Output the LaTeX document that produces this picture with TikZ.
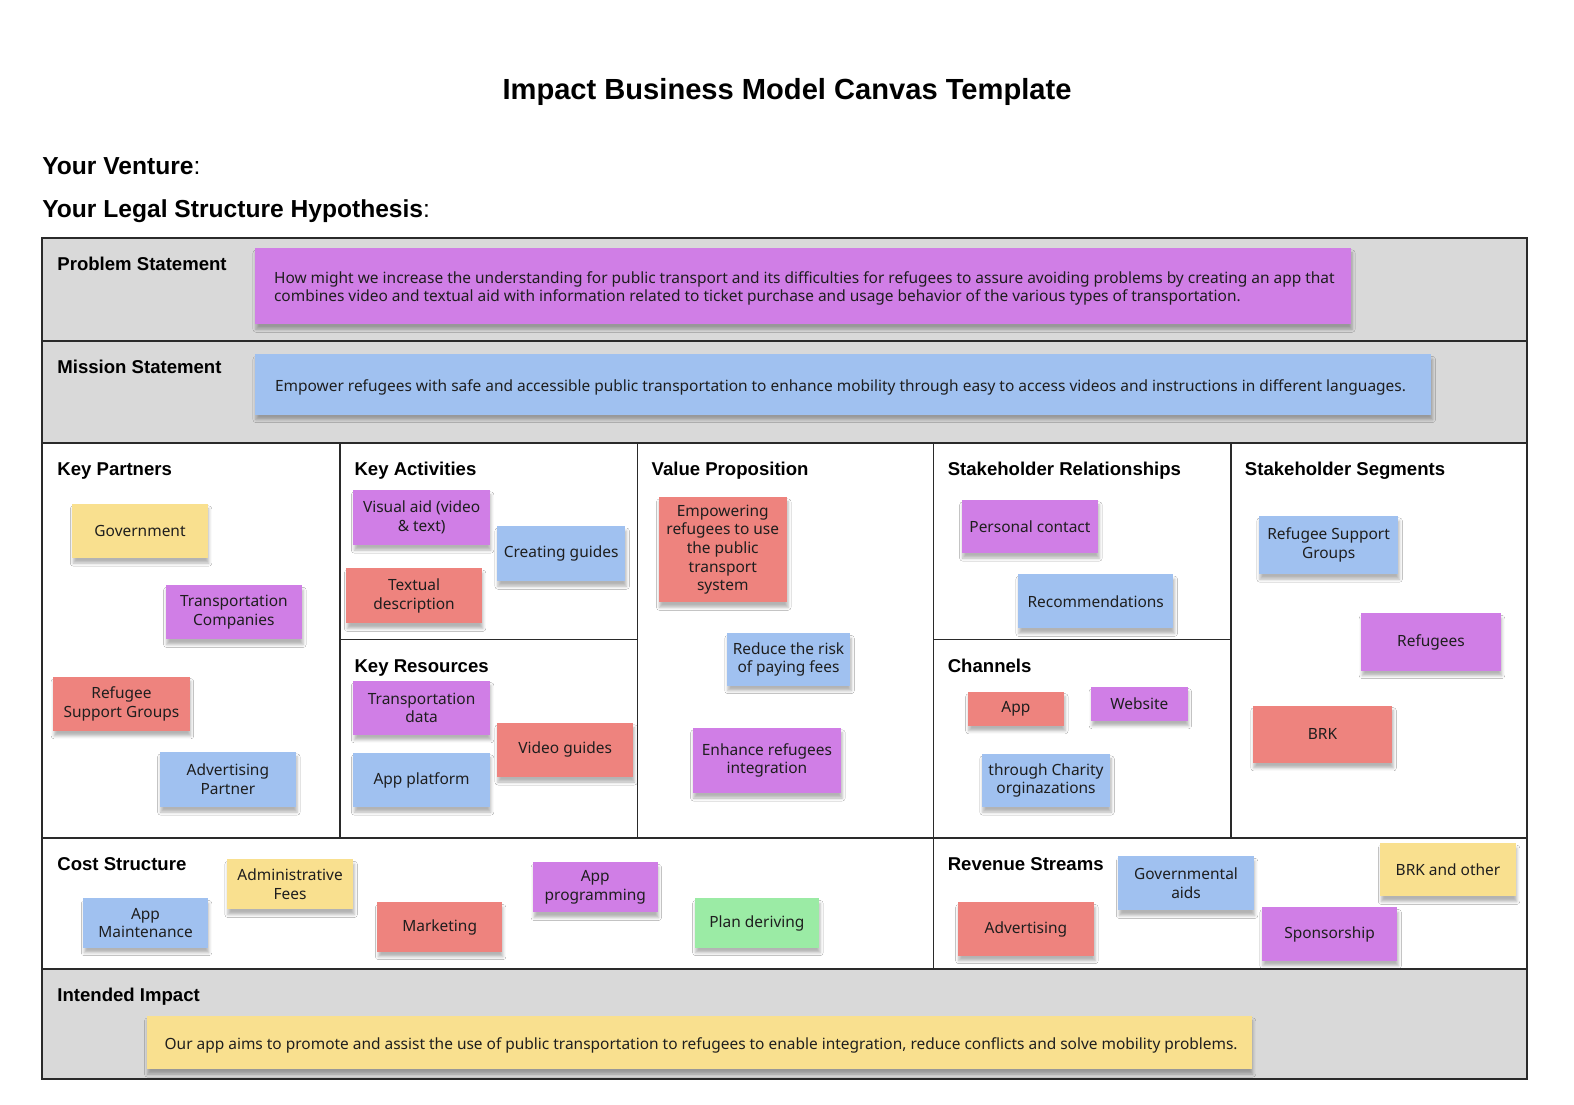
\documentclass[tikz,border=0pt]{standalone}
\usepackage{fontspec}
\setmainfont{Liberation Sans}
\newfontfamily\notefont{Noto Sans}
\usetikzlibrary{shadows.blur}

\definecolor{framecol}{HTML}{2A2A2A}
\definecolor{rowgray}{HTML}{D9D9D9}
\definecolor{notepurple}{HTML}{D07EE6}
\definecolor{noteblue}{HTML}{A0C1F0}
\definecolor{notered}{HTML}{EE837E}
\definecolor{noteyellow}{HTML}{F9E08F}
\definecolor{notegreen}{HTML}{9BEBA5}
\definecolor{notetext}{HTML}{1E1E1E}

\begin{document}
\begin{tikzpicture}[x=1pt,y=-1pt,
  cell/.style={draw=framecol, line width=1.8pt},
  graycell/.style={cell, fill=rowgray},
  hdr/.style={anchor=base west, inner sep=0pt, font=\fontsize{18.5}{20}\selectfont\bfseries},
  notetxt/.style={inner sep=0pt, align=center, text=notetext, font=\notefont\fontsize{15.4}{18.5}\selectfont},
  sticky/.style={notetxt,
    blur shadow={shadow xshift=1pt, shadow yshift=-5pt, shadow blur radius=3pt, shadow opacity=30}},
  sz/.style 2 args={minimum width=#1, minimum height=#2},
  purple/.style={sticky, fill=notepurple},
  blue/.style={sticky, fill=noteblue},
  red/.style={sticky, fill=notered},
  yellow/.style={sticky, fill=noteyellow},
  green/.style={sticky, fill=notegreen},
  stmt/.style={notetxt, anchor=west, align=left},
]
\useasboundingbox (0,0) rectangle (1568,1100);
\fill[white] (0,0) rectangle (1568,1100);

% page headings
\node[anchor=base, inner sep=0pt, font=\fontsize{29}{31}\selectfont\bfseries] (title) at (784,99.5) {Impact Business Model Canvas Template};
\node[anchor=base west, inner sep=0pt, font=\fontsize{24.5}{26}\selectfont] (venture) at (42,174) {\textbf{Your Venture}:};
\node[anchor=base west, inner sep=0pt, font=\fontsize{24.5}{26}\selectfont] (legal) at (42,217) {\textbf{Your Legal Structure Hypothesis}:};

% canvas grid
\draw[graycell] (42,237) rectangle (1521,340);
\draw[graycell] (42,340) rectangle (1521,441);
\draw[cell] (42,441) rectangle (339,835);
\draw[cell] (339,441) rectangle (635,637);
\draw[cell] (339,637) rectangle (635,835);
\draw[cell] (635,441) rectangle (930,835);
\draw[cell] (930,441) rectangle (1226,637);
\draw[cell] (930,637) rectangle (1226,835);
\draw[cell] (1226,441) rectangle (1521,835);
\draw[cell] (42,835) rectangle (930,965);
\draw[cell] (930,835) rectangle (1521,965);
\draw[graycell] (42,965) rectangle (1521,1075);

% block headings
\node[hdr] (hProblem) at (57,269.5) {Problem Statement};
\node[hdr] (hMission) at (57,372.5) {Mission Statement};
\node[hdr] (hPartners) at (57,473.5) {Key Partners};
\node[hdr] (hActivities) at (353,473.5) {Key Activities};
\node[hdr] (hResources) at (353,669.5) {Key Resources};
\node[hdr] (hValue) at (649,473.5) {Value Proposition};
\node[hdr] (hRelations) at (944,473.5) {Stakeholder Relationships};
\node[hdr] (hChannels) at (944,669.5) {Channels};
\node[hdr] (hSegments) at (1240,473.5) {Stakeholder Segments};
\node[hdr] (hCost) at (57,867.5) {Cost Structure};
\node[hdr] (hRevenue) at (944,867.5) {Revenue Streams};
\node[hdr] (hImpact) at (57,997.5) {Intended Impact};

% statements: wide notes with left-aligned text
\node[purple, sz={1092pt}{76pt}] (problem) at (800,285) {};
\node[stmt] (problemText) at ([xshift=19pt, yshift=-2.5pt]problem.west)
  {How might we increase the understanding for public transport and its difficulties for refugees to assure avoiding problems by creating an app that\\combines video and textual aid with information related to ticket purchase and usage behavior of the various types of transportation.};
\node[blue, sz={1172pt}{60pt}] (mission) at (840,383) {};
\node[stmt] (missionText) at ([xshift=20pt, yshift=-2.5pt]mission.west)
  {Empower refugees with safe and accessible public transportation to enhance mobility through easy to access videos and instructions in different languages.};
\node[yellow, sz={1101pt}{53pt}] (impact) at (696.5,1038.5) {};
\node[stmt] (impactText) at ([xshift=18pt, yshift=-2.5pt]impact.west)
  {Our app aims to promote and assist the use of public transportation to refugees to enable integration, reduce conflicts and solve mobility problems.};

% key partners
\node[yellow, sz={135pt}{54pt}] (kpGov) at (139.5,529) {Government};
\node[purple, sz={136pt}{54pt}] (kpTrans) at (233,610) {Transportation\\Companies};
\node[red, sz={136pt}{54pt}] (kpRefugee) at (121,701) {Refugee\\Support Groups};
\node[blue, sz={136pt}{55pt}] (kpAdvert) at (227,776.5) {Advertising\\Partner};

% key activities
\node[purple, sz={136pt}{55pt}] (kaVisual) at (420,515.5) {Visual aid (video\\\& text)};
\node[blue, sz={128pt}{55pt}] (kaGuides) at (559,551.5) {Creating guides};
\node[red, sz={135pt}{55pt}] (kaText) at (412.5,593.5) {Textual\\description};

% key resources
\node[purple, sz={136pt}{54pt}] (krData) at (420,705) {Transportation\\data};
\node[red, sz={136pt}{54pt}] (krVideo) at (563,747) {Video guides};
\node[blue, sz={136pt}{54pt}] (krPlatform) at (420,777) {App platform};

% value proposition
\node[red, sz={128pt}{105pt}] (vpEmpower) at (720,547.5) {Empowering\\refugees to use\\the public\\transport\\system};
\node[blue, sz={123pt}{52pt}] (vpRisk) at (785.5,657) {Reduce the risk\\of paying fees};
\node[purple, sz={148pt}{65pt}] (vpIntegr) at (764,757.5) {Enhance refugees\\integration};

% stakeholder relationships
\node[purple, sz={136pt}{53pt}] (srContact) at (1026,524.5) {Personal contact};
\node[blue, sz={155pt}{54pt}] (srRecomm) at (1091.5,599) {Recommendations};

% channels
\node[red, sz={96pt}{34pt}] (chApp) at (1012,706) {App};
\node[purple, sz={96pt}{34pt}] (chWeb) at (1135,701) {Website};
\node[blue, sz={128pt}{53pt}] (chCharity) at (1042,777.5) {through Charity\\orginazations};

% stakeholder segments
\node[blue, sz={139pt}{58pt}] (ssGroups) at (1323.5,543) {Refugee Support\\Groups};
\node[purple, sz={139pt}{57pt}] (ssRefugees) at (1425.5,639.5) {Refugees};
\node[red, sz={139pt}{57pt}] (ssBRK) at (1317.5,731.5) {BRK};

% cost structure
\node[blue, sz={124pt}{49pt}] (csMaint) at (145,919.5) {App\\Maintenance};
\node[yellow, sz={126pt}{50pt}] (csAdmin) at (289,881) {Administrative\\Fees};
\node[red, sz={124pt}{49pt}] (csMarket) at (438,923.5) {Marketing};
\node[purple, sz={124pt}{50pt}] (csProg) at (593,884) {App\\programming};
\node[green, sz={124pt}{49pt}] (csPlan) at (754,919.5) {Plan deriving};

% revenue streams
\node[red, sz={136pt}{53pt}] (rsAdvert) at (1022,925.5) {Advertising};
\node[blue, sz={135pt}{54pt}] (rsGov) at (1181.5,880) {Governmental\\aids};
\node[purple, sz={135pt}{53pt}] (rsSponsor) at (1324.5,930.5) {Sponsorship};
\node[yellow, sz={135pt}{53pt}] (rsBRK) at (1442.5,866.5) {BRK and other};
\end{tikzpicture}
\end{document}
